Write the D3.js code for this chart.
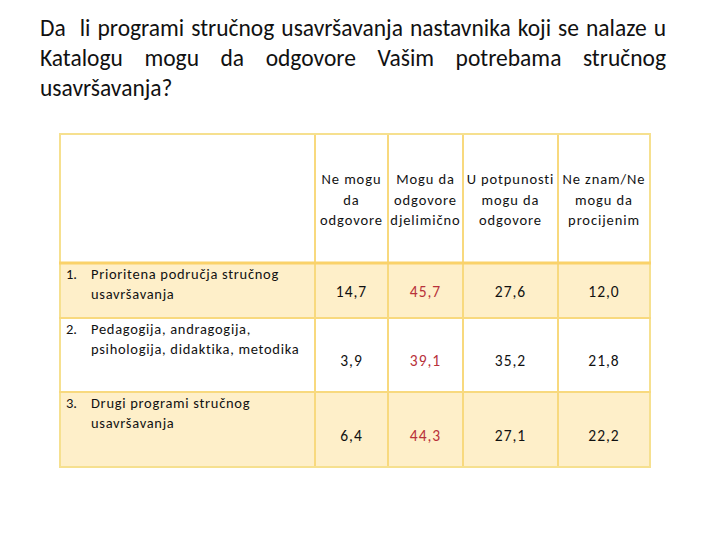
<!DOCTYPE html>
<html>
<head>
<meta charset="utf-8">
<script src="https://cdn.jsdelivr.net/npm/d3@7"></script>
<style>
  body { margin: 0; background: #fff; }
  svg text { font-family: Carlito, "Liberation Sans Narrow", "DejaVu Sans Condensed", sans-serif; }
</style>
</head>
<body>
<script>
// title lines (first two are justified)
var titleLines = [
  "Da  li programi stručnog usavršavanja nastavnika koji se nalaze u",
  "Katalogu mogu da odgovore Vašim potrebama stručnog",
  "usavršavanja?"
];

var columns = [
  ["Ne mogu", "da", "odgovore"],
  ["Mogu da", "odgovore", "djelimično"],
  ["U potpunosti", "mogu da", "odgovore"],
  ["Ne znam/Ne", "mogu da", "procijenim"]
];

var rowNumbers = ["1.", "2.", "3."];
var rowLabels = [
  ["Prioritena područja stručnog", "usavršavanja"],
  ["Pedagogija, andragogija,", "psihologija, didaktika, metodika"],
  ["Drugi programi stručnog", "usavršavanja"]
];

var neMogu = ["14,7", "3,9", "6,4"];
var djelimicno = ["45,7", "39,1", "44,3"];
var uPotpunosti = ["27,6", "35,2", "27,1"];
var neZnam = ["12,0", "21,8", "22,2"];

var values = [neMogu, djelimicno, uPotpunosti, neZnam];

var width = 720, height = 540;
var svg = d3.select("body").append("svg")
    .attr("width", width)
    .attr("height", height);

// title
var tLeft = 40, tRight = 666;
titleLines.forEach(function(line, i) {
  var y = 36 + i * 30;
  var justify = i < titleLines.length - 1;
  if (!justify) {
    svg.append("text").attr("x", tLeft).attr("y", y)
      .attr("font-size", "23.5px").attr("fill", "#111").text(line);
    return;
  }
  var words = line.split(" ");
  var g = svg.append("g");
  var nodes = words.map(function(w) {
    return g.append("text").attr("y", y).attr("font-size", "23.5px").attr("fill", "#111").text(w);
  });
  var widths = nodes.map(function(n) { return n.node().getComputedTextLength(); });
  var total = d3.sum(widths);
  var gap = (tRight - tLeft - total) / (words.length - 1);
  var x = tLeft;
  nodes.forEach(function(n, j) {
    n.attr("x", x);
    x += widths[j] + gap;
  });
});

// table layout
var colEdges = [60, 315, 388, 463, 558, 650];
var rowEdges = [134, 263, 318, 392, 467];

var rowFill = ["#fff", "#feefc9", "#fff", "#feefc9"];
var border = "#f8d97e";

// fills
rowEdges.slice(0, -1).forEach(function(y0, i) {
  svg.append("rect")
    .attr("x", colEdges[0]).attr("y", y0)
    .attr("width", colEdges[colEdges.length - 1] - colEdges[0])
    .attr("height", rowEdges[i + 1] - y0)
    .attr("fill", rowFill[i]);
});

// grid lines
colEdges.forEach(function(x, i) {
  svg.append("line")
    .attr("x1", x).attr("x2", x)
    .attr("y1", rowEdges[0]).attr("y2", rowEdges[rowEdges.length - 1])
    .attr("stroke", (i === 0 || i === colEdges.length - 1) ? "#f6e08f" : border)
    .attr("stroke-width", 2);
});
rowEdges.forEach(function(y, i) {
  svg.append("line")
    .attr("x1", colEdges[0] - 1).attr("x2", colEdges[colEdges.length - 1] + 1)
    .attr("y1", y).attr("y2", y)
    .attr("stroke", i === 1 ? "#fad26a" : ((i === 0 || i === rowEdges.length - 1) ? "#f6e08f" : border))
    .attr("stroke-width", i === 1 ? 3 : 2);
});

// column scale (centers)
var colIdx = d3.range(columns.length);
var xCenter = d3.scaleOrdinal()
  .domain(colIdx)
  .range(colIdx.map(function(i) { return (colEdges[i + 1] + colEdges[i + 2]) / 2; }));

// header
columns.forEach(function(lines, i) {
  lines.forEach(function(l, k) {
    svg.append("text")
      .attr("x", xCenter(i)).attr("y", 184 + k * 20.5)
      .attr("text-anchor", "middle")
      .attr("font-size", "14.5px").attr("letter-spacing", "0.9px").attr("fill", "#111")
      .text(l);
  });
});

// rows
var rowIdx = d3.range(rowLabels.length);
var yTop = d3.scaleOrdinal().domain(rowIdx).range(rowIdx.map(function(i) { return rowEdges[i + 1]; }));
var numOffset = [29, 43, 44];

rowIdx.forEach(function(r) {
  var y0 = yTop(r);
  svg.append("text").attr("x", 66).attr("y", y0 + 16)
    .attr("font-size", "14.5px").attr("fill", "#111").text(rowNumbers[r]);
  rowLabels[r].forEach(function(l, k) {
    svg.append("text").attr("x", 91).attr("y", y0 + 16 + k * 20)
      .attr("font-size", "14.5px").attr("letter-spacing", "0.7px").attr("fill", "#111").text(l);
  });
  values.forEach(function(series, c) {
    svg.append("text")
      .attr("x", xCenter(c)).attr("y", y0 + numOffset[r] + 5)
      .attr("text-anchor", "middle")
      .attr("font-size", "15.5px").attr("letter-spacing", "1px")
      .attr("fill", c === 1 ? "#b8323a" : "#111")
      .text(series[r]);
  });
});
</script>
</body>
</html>
